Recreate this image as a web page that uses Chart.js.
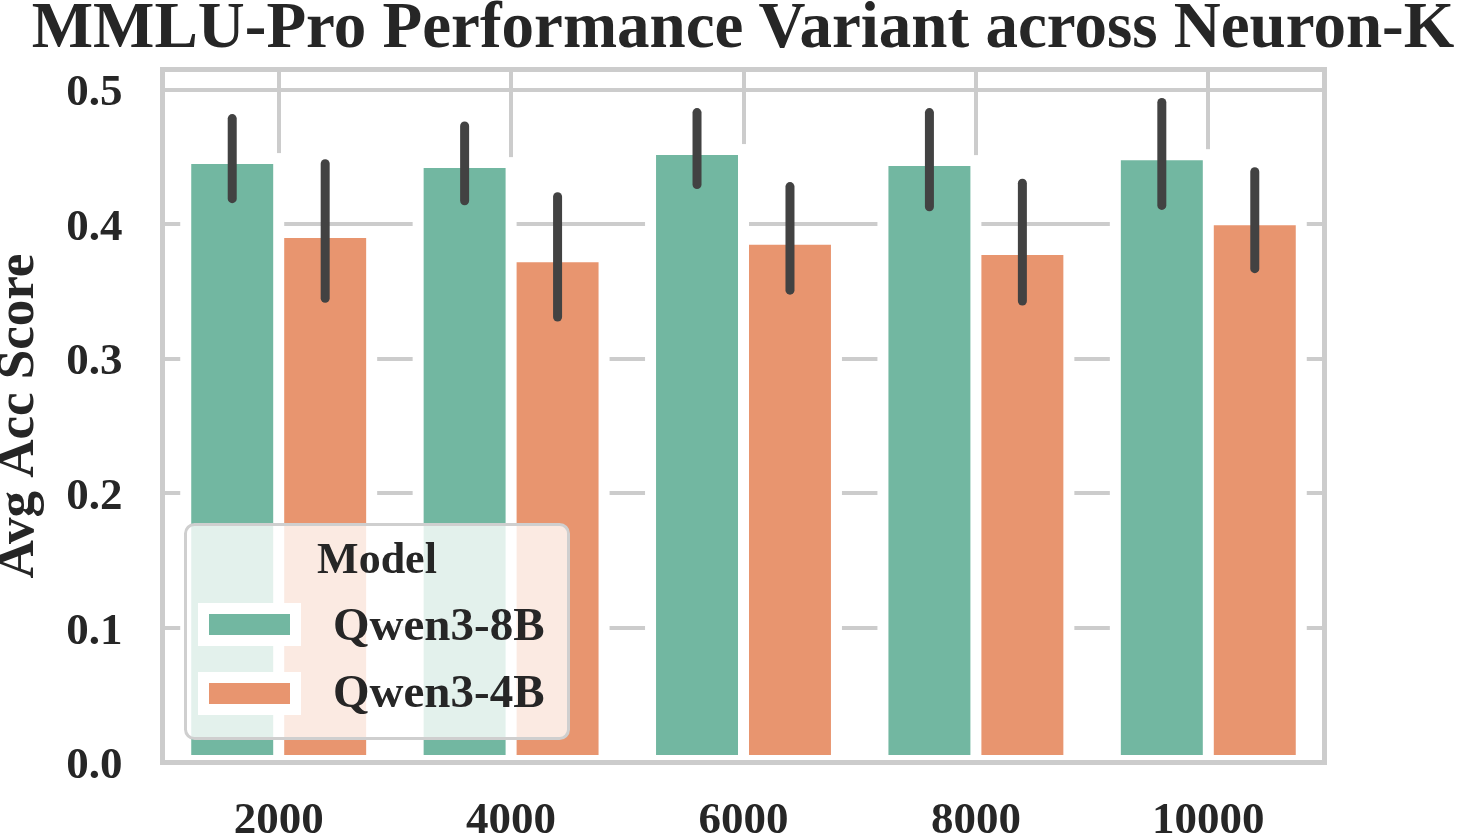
<!DOCTYPE html>
<html>
<head>
<meta charset="utf-8">
<script src="https://cdn.jsdelivr.net/npm/chart.js@4.4.1/dist/chart.umd.min.js"></script>
<style>
  html, body { margin: 0; padding: 0; background: #fff; }
  #wrap { position: relative; width: 1458px; height: 838px; }
  #legenda { position: absolute; left: 0; top: 0; pointer-events: none; }
</style>
</head>
<body>
<div id="wrap">
  <canvas id="grafico" width="1458" height="838"></canvas>
  <svg id="legenda" width="1458" height="838" font-family="'Liberation Serif', serif" font-weight="bold" fill="#262626">
    <text x="743" y="47" font-size="65" text-anchor="middle">MMLU-Pro Performance Variant across Neuron-K</text>
    <rect x="185.5" y="524.5" width="383" height="214" rx="9" ry="9" fill="rgba(255,255,255,0.8)" stroke="#cfcfcf" stroke-width="3"/>
    <text x="377" y="573" font-size="44" text-anchor="middle">Model</text>
    <rect x="198" y="603" width="103" height="43" fill="#fff"/>
    <rect x="209" y="614" width="81" height="21" fill="#72b7a1"/>
    <text x="333" y="640" font-size="47">Qwen3-8B</text>
    <rect x="198" y="672" width="103" height="43" fill="#fff"/>
    <rect x="209" y="683" width="81" height="21" fill="#e8956f"/>
    <text x="333" y="707" font-size="47">Qwen3-4B</text>
  </svg>
</div>
<script>
// dados
const neuronK = ['2000', '4000', '6000', '8000', '10000'];

const qwen8b = [0.4488, 0.4458, 0.4555, 0.4473, 0.4517];
const qwen8bErrAlto = [0.4785, 0.4730, 0.4830, 0.4830, 0.4905];
const qwen8bErrBaixo = [0.4190, 0.4175, 0.4295, 0.4130, 0.4140];

const qwen4b = [0.3938, 0.3759, 0.3889, 0.3812, 0.4034];
const qwen4bErrAlto = [0.4450, 0.4205, 0.4280, 0.4305, 0.4390];
const qwen4bErrBaixo = [0.3450, 0.3310, 0.3510, 0.3430, 0.3670];

const yTicks = [0, 0.1, 0.2, 0.3, 0.4, 0.5];

const corVerde = '#72b7a1';
const corLaranja = '#e8956f';
const corGrade = '#cccccc';
const corTexto = '#262626';
const fonte = "'Liberation Serif', 'Times New Roman', serif";
const BORDA = 5.5;

// borda branca fora das barras (cobre a grade, como no seaborn)
const bordaBranca = {
  id: 'bordaBranca',
  beforeDatasetsDraw(chart) {
    const ctx = chart.ctx;
    ctx.save();
    ctx.fillStyle = '#ffffff';
    chart.data.datasets.forEach((ds, i) => {
      chart.getDatasetMeta(i).data.forEach(bar => {
        const p = bar.getProps(['x', 'y', 'base', 'width'], true);
        const meia = p.width / 2 + BORDA;
        ctx.fillRect(p.x - meia, p.y - BORDA, meia * 2, p.base - p.y + 2 * BORDA);
      });
    });
    ctx.restore();
  }
};

// moldura e barras de erro
const errosEMoldura = {
  id: 'errosEMoldura',
  afterDatasetsDraw(chart) {
    const ctx = chart.ctx;
    const area = chart.chartArea;
    const y = chart.scales.y;
    ctx.save();
    ctx.strokeStyle = corGrade;
    ctx.lineWidth = 5;
    ctx.strokeRect(area.left, area.top, area.right - area.left, area.bottom - area.top);

    ctx.strokeStyle = '#424242';
    ctx.lineWidth = 9;
    ctx.lineCap = 'round';
    chart.data.datasets.forEach((ds, i) => {
      chart.getDatasetMeta(i).data.forEach((bar, j) => {
        const x = bar.getProps(['x'], true).x;
        ctx.beginPath();
        ctx.moveTo(x, y.getPixelForValue(ds.errAlto[j]));
        ctx.lineTo(x, y.getPixelForValue(ds.errBaixo[j]));
        ctx.stroke();
      });
    });
    ctx.restore();
  }
};

const ctx = document.getElementById('grafico').getContext('2d');
new Chart(ctx, {
  type: 'bar',
  data: {
    labels: neuronK,
    datasets: [
      {
        label: 'Qwen3-8B',
        data: qwen8b,
        errAlto: qwen8bErrAlto,
        errBaixo: qwen8bErrBaixo,
        backgroundColor: corVerde,
        borderColor: '#ffffff',
        borderWidth: BORDA,
        borderSkipped: false
      },
      {
        label: 'Qwen3-4B',
        data: qwen4b,
        errAlto: qwen4bErrAlto,
        errBaixo: qwen4bErrBaixo,
        backgroundColor: corLaranja,
        borderColor: '#ffffff',
        borderWidth: BORDA,
        borderSkipped: false
      }
    ]
  },
  options: {
    responsive: false,
    animation: false,
    layout: { padding: { left: 0, right: 133.5, top: 69.5, bottom: 0 } },
    categoryPercentage: 0.8,
    barPercentage: 1.0,
    plugins: {
      legend: { display: false },
      tooltip: { enabled: false },
      title: { display: false }
    },
    scales: {
      x: {
        offset: true,
        grid: { display: true, offset: false, color: corGrade, lineWidth: 4, drawTicks: false },
        border: { display: false },
        ticks: {
          color: corTexto,
          padding: 32,
          font: { family: fonte, size: 45, weight: 'bold' }
        },
        afterFit: s => { s.height = 75.5; }
      },
      y: {
        min: 0,
        max: 0.515,
        afterBuildTicks: s => { s.ticks = yTicks.map(v => ({ value: v })); },
        grid: { color: corGrade, lineWidth: 4, drawTicks: false },
        border: { display: false },
        ticks: {
          color: corTexto,
          padding: 40,
          labelOffset: 4,
          font: { family: fonte, size: 45, weight: 'bold' },
          callback: v => v.toFixed(1)
        },
        title: {
          display: true,
          text: 'Avg Acc Score',
          color: corTexto,
          padding: 0,
          font: { family: fonte, size: 53, weight: 'bold', lineHeight: 0.74 }
        },
        afterFit: s => { s.width = 162.5; }
      }
    }
  },
  plugins: [bordaBranca, errosEMoldura]
});
</script>
</body>
</html>
